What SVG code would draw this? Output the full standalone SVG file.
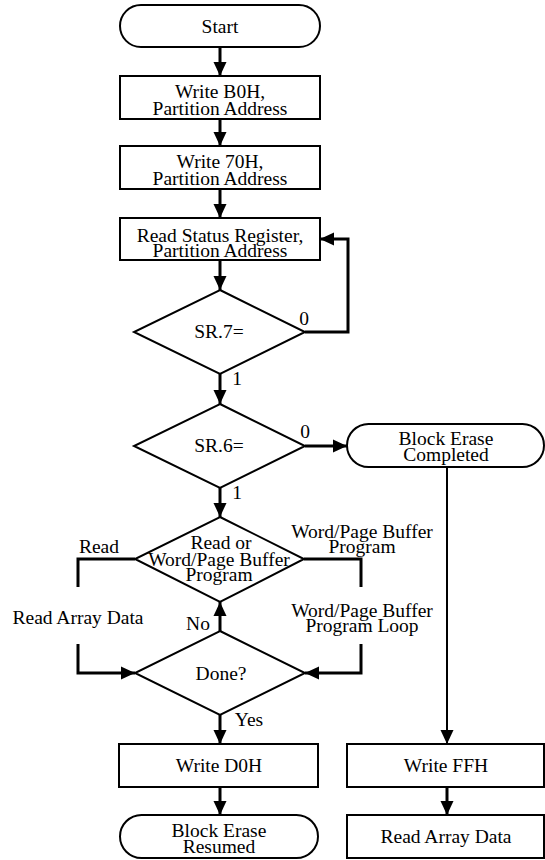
<svg xmlns="http://www.w3.org/2000/svg" width="545" height="860" viewBox="0 0 545 860">
<defs>
<marker id="ah" markerUnits="userSpaceOnUse" markerWidth="14" markerHeight="14" viewBox="0 0 14 14" refX="14" refY="7" orient="auto">
<path d="M0,0.5 L14,7 L0,13.5 z" fill="#000"/>
</marker>
</defs>
<style>
.s{fill:#fff;stroke:#000;stroke-width:2}
.t{font-family:"Liberation Serif","Times New Roman",serif;font-size:19.5px;fill:#000;text-anchor:middle}
.c{fill:none;stroke:#000;stroke-width:3}
.c2{fill:none;stroke:#000;stroke-width:2}
</style>
<rect width="545" height="860" fill="#fff"/>
<g id="connectors">
<path class="c" d="M220,47 V76" marker-end="url(#ah)"/>
<path class="c" d="M220,119 V146" marker-end="url(#ah)"/>
<path class="c" d="M220,189 V218" marker-end="url(#ah)"/>
<path class="c" d="M220,260 V290" marker-end="url(#ah)"/>
<path class="c" d="M305,332 H348 V239 H320" marker-end="url(#ah)"/>
<path class="c" d="M220,374 V404" marker-end="url(#ah)"/>
<path class="c" d="M305,446 H347" marker-end="url(#ah)"/>
<path class="c" d="M220,488 V517" marker-end="url(#ah)"/>
<path class="c" d="M135,559 H78 V587"/>
<path class="c" d="M78,644 V673 H135" marker-end="url(#ah)"/>
<path class="c" d="M304,559 H361 V587"/>
<path class="c" d="M361,644 V673 H305" marker-end="url(#ah)"/>
<path class="c" d="M220,631 V602" marker-end="url(#ah)"/>
<path class="c" d="M220,715 V744" marker-end="url(#ah)"/>
<path class="c" d="M220,787 V815" marker-end="url(#ah)"/>
<path class="c2" d="M447,467 V744" marker-end="url(#ah)"/>
<path class="c" d="M447,787 V815" marker-end="url(#ah)"/>
<text class="t" x="304" y="325">0</text>
<text class="t" x="237" y="385">1</text>
<text class="t" x="305" y="438">0</text>
<text class="t" x="237" y="499">1</text>
<text class="t" x="99" y="553">Read</text>
<text class="t" x="362" y="538">Word/Page Buffer</text>
<text class="t" x="362" y="553">Program</text>
<text class="t" x="78" y="624">Read Array Data</text>
<text class="t" x="362" y="617">Word/Page Buffer</text>
<text class="t" x="362" y="632">Program Loop</text>
<text class="t" x="198" y="630">No</text>
<text class="t" x="249" y="726">Yes</text>
</g>
<g id="start">
<rect class="s" x="120" y="5" width="200" height="42" rx="21"/>
<text class="t" x="220" y="33">Start</text>
</g>
<g id="writeB0H">
<rect class="s" x="120" y="76" width="200" height="43"/>
<text class="t" x="220" y="98">Write B0H,</text>
<text class="t" x="220" y="115">Partition Address</text>
</g>
<g id="write70H">
<rect class="s" x="120" y="146" width="200" height="43"/>
<text class="t" x="220" y="168">Write 70H,</text>
<text class="t" x="220" y="185">Partition Address</text>
</g>
<g id="readSR">
<rect class="s" x="120" y="218" width="200" height="42"/>
<text class="t" x="220" y="242">Read Status Register,</text>
<text class="t" x="220" y="257">Partition Address</text>
</g>
<g id="sr7">
<polygon class="s" points="220,290 305,332 220,374 134,332"/>
<text class="t" x="219" y="338">SR.7=</text>
</g>
<g id="sr6">
<polygon class="s" points="220,404 305,446 220,488 134,446"/>
<text class="t" x="219" y="452">SR.6=</text>
</g>
<g id="blockEraseCompleted">
<rect class="s" x="347" y="424" width="197" height="43" rx="21.5"/>
<text class="t" x="446" y="445">Block Erase</text>
<text class="t" x="446" y="461">Completed</text>
</g>
<g id="readOrProgram">
<polygon class="s" points="220,517 304,559 220,602 135,559"/>
<text class="t" x="221" y="549">Read or</text>
<text class="t" x="219" y="566">Word/Page Buffer</text>
<text class="t" x="219" y="581">Program</text>
</g>
<g id="done">
<polygon class="s" points="220,631 305,673 220,715 135,673"/>
<text class="t" x="221" y="680">Done?</text>
</g>
<g id="writeD0H">
<rect class="s" x="119" y="744" width="199" height="43"/>
<text class="t" x="219" y="772">Write D0H</text>
</g>
<g id="blockEraseResumed">
<rect class="s" x="120" y="815" width="198" height="43" rx="21.5"/>
<text class="t" x="219" y="837">Block Erase</text>
<text class="t" x="219" y="853">Resumed</text>
</g>
<g id="writeFFH">
<rect class="s" x="347" y="744" width="197" height="43"/>
<text class="t" x="446" y="772">Write FFH</text>
</g>
<g id="readArrayData">
<rect class="s" x="347" y="815" width="197" height="43"/>
<text class="t" x="446" y="843">Read Array Data</text>
</g>
</svg>
